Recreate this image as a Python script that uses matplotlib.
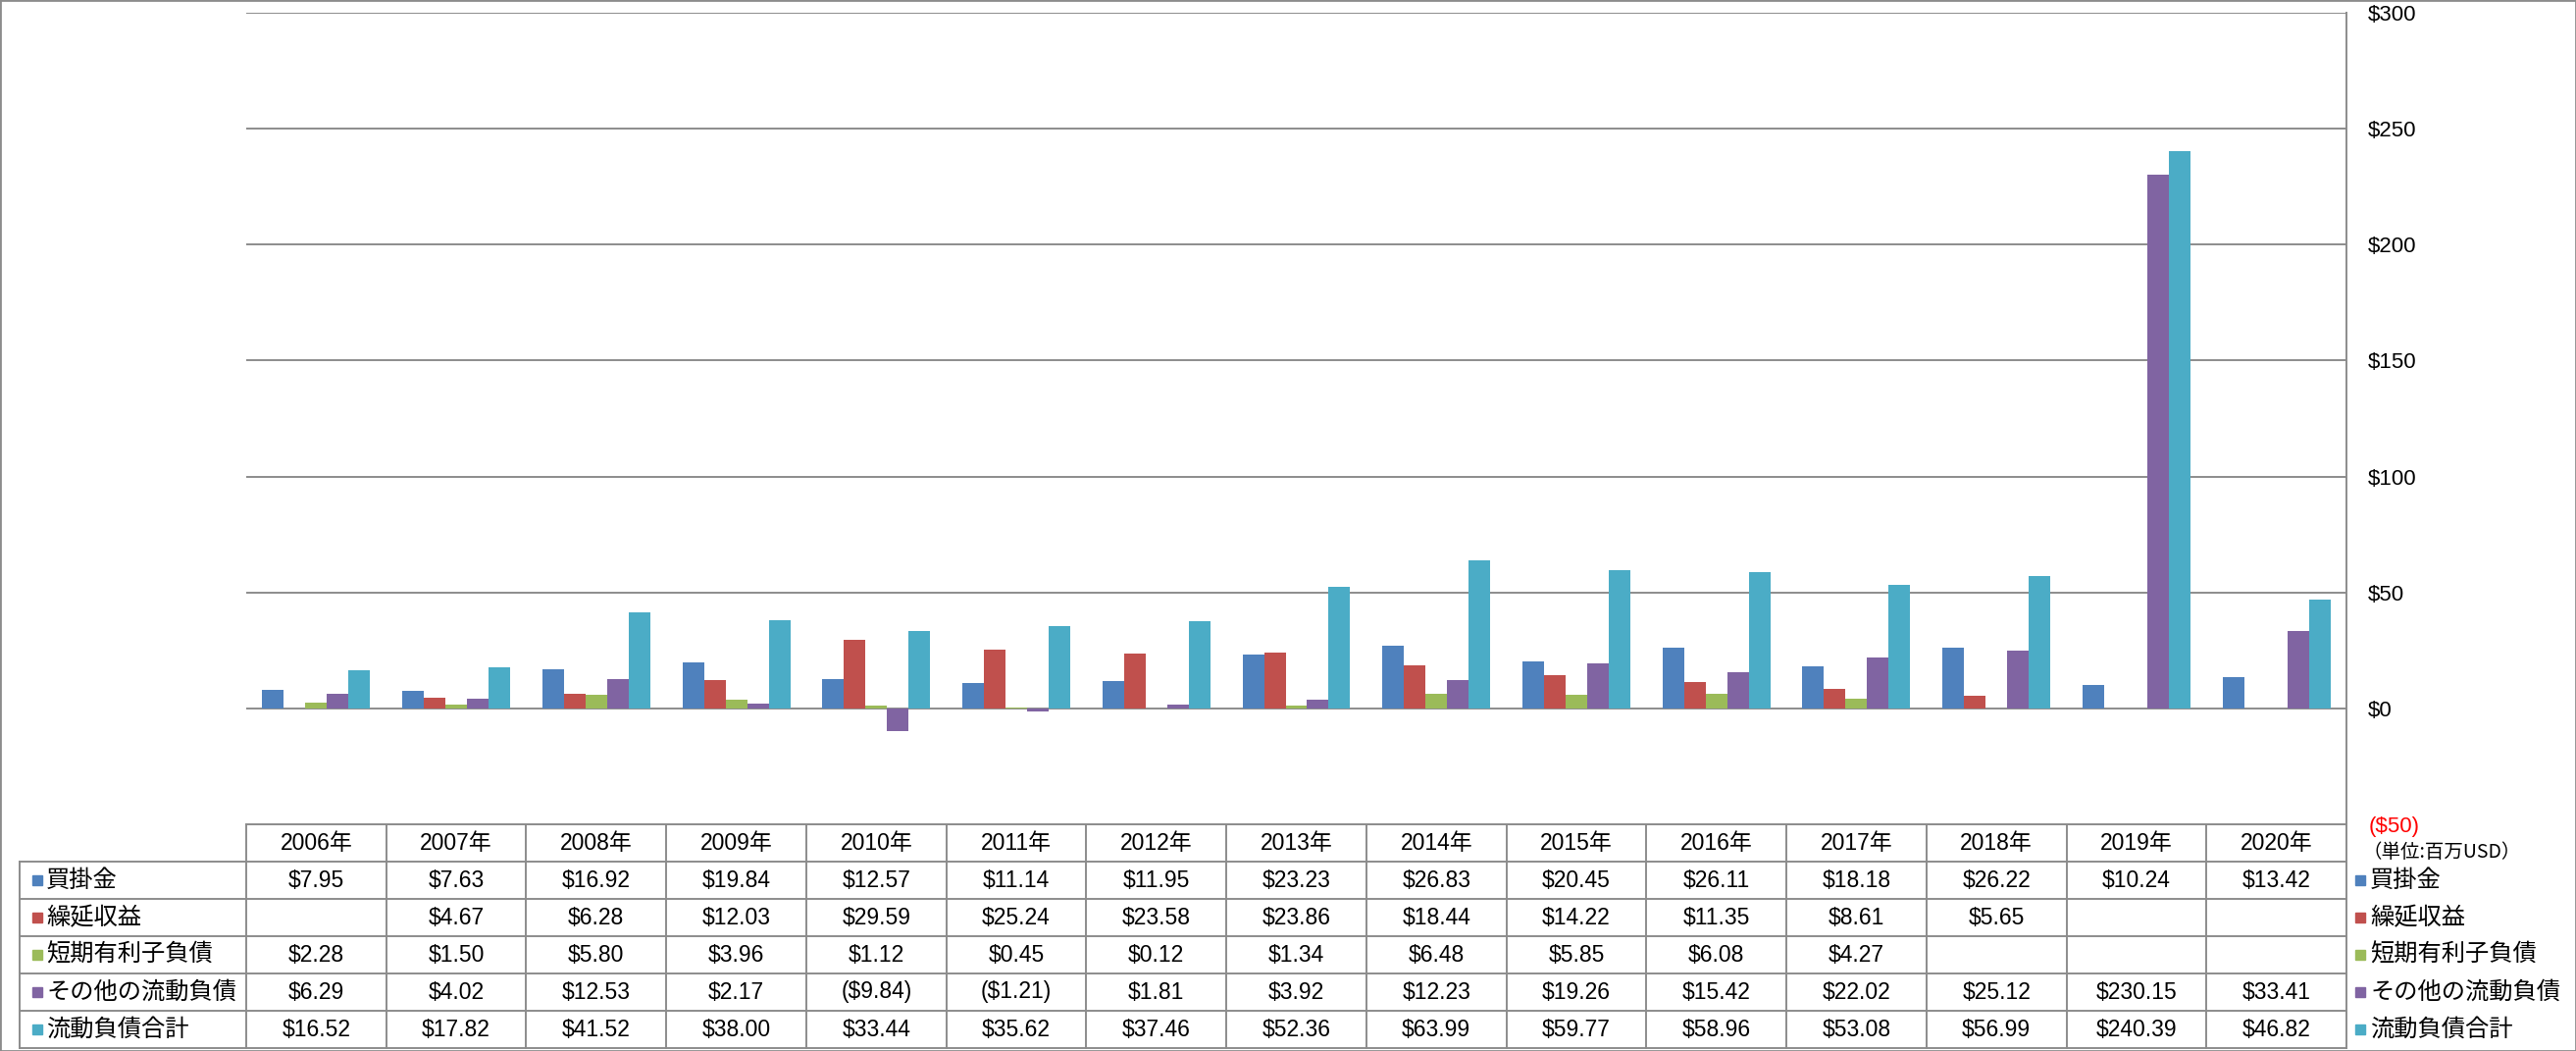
import numpy as np
import matplotlib
matplotlib.use('Agg')
import matplotlib.pyplot as plt
from matplotlib.patches import Rectangle

plt.rcParams['font.family'] = ['Liberation Sans', 'Noto Sans CJK JP', 'DejaVu Sans']

years = ['2006年', '2007年', '2008年', '2009年', '2010年', '2011年', '2012年', '2013年',
         '2014年', '2015年', '2016年', '2017年', '2018年', '2019年', '2020年']
series_names = ['買掛金', '繰延収益', '短期有利子負債', 'その他の流動負債', '流動負債合計']
colors = ['#4F81BD', '#C0504D', '#9BBB59', '#8064A2', '#4BACC6']

accounts_payable = [7.95, 7.63, 16.92, 19.84, 12.57, 11.14, 11.95, 23.23, 26.83, 20.45, 26.11, 18.18, 26.22, 10.24, 13.42]
deferred_revenue = [None, 4.67, 6.28, 12.03, 29.59, 25.24, 23.58, 23.86, 18.44, 14.22, 11.35, 8.61, 5.65, None, None]
short_term_debt = [2.28, 1.50, 5.80, 3.96, 1.12, 0.45, 0.12, 1.34, 6.48, 5.85, 6.08, 4.27, None, None, None]
other_current = [6.29, 4.02, 12.53, 2.17, -9.84, -1.21, 1.81, 3.92, 12.23, 19.26, 15.42, 22.02, 25.12, 230.15, 33.41]
total_current = [16.52, 17.82, 41.52, 38.00, 33.44, 35.62, 37.46, 52.36, 63.99, 59.77, 58.96, 53.08, 56.99, 240.39, 46.82]
all_series = [accounts_payable, deferred_revenue, short_term_debt, other_current, total_current]

yticks = [-50, 0, 50, 100, 150, 200, 250, 300]


def money(v):
    if v < 0:
        return '(${:,.2f})'.format(-v)
    return '${:,.2f}'.format(v)


W, H = 2626, 1071
fig = plt.figure(figsize=(W / 100, H / 100), dpi=100)
grid_c = '#8C8C8C'
jp = ['Noto Sans CJK JP']

# plot area
x0, x1, ytop, ybot = 251, 2392, 13, 840
ax = fig.add_axes([x0 / W, (H - ybot) / H, (x1 - x0) / W, (ybot - ytop) / H])
ax.set_xlim(-0.5, len(years) - 0.5)
ax.set_ylim(-50, 300)

bw = 0.154
for k, vals in enumerate(all_series):
    pts = [(i, v) for i, v in enumerate(vals) if v is not None]
    px = [p[0] + (k - 2) * bw for p in pts]
    ph = [p[1] for p in pts]
    ax.bar(px, ph, width=bw, color=colors[k], linewidth=0, zorder=2)

ax.set_yticks(yticks)
ax.set_yticklabels(['(${})'.format(-t) if t < 0 else '${}'.format(t) for t in yticks])
ax.yaxis.grid(True, color=grid_c, lw=1.4, zorder=0)
ax.set_axisbelow(True)
ax.yaxis.tick_right()
ax.tick_params(axis='y', length=0, pad=16, labelsize=16, labelright=True, labelleft=False)
for lab, t in zip(ax.get_yticklabels(), yticks):
    if t < 0:
        lab.set_color('red')
ax.tick_params(axis='x', bottom=False, labelbottom=False)
for s in ['left', 'top', 'bottom']:
    ax.spines[s].set_visible(False)
ax.spines['right'].set_color(grid_c)
ax.spines['right'].set_linewidth(1.4)

fig.text(2408 / W, 1 - 868 / H, '（単位:百万USD）', fontsize=14, va='center', ha='left',
         family=jp)

# data table
tl, tb = 20, 1068
colw = (x1 - x0) / len(years)
xl = -0.5 - (x0 - tl) / colw
xr = len(years) - 0.5
at = fig.add_axes([tl / W, (H - tb) / H, (x1 - tl) / W, (tb - ybot) / H])
at.set_xlim(xl, xr)
at.set_ylim(6, 0)
at.axis('off')

nrow = len(series_names)
at.plot([-0.5, xr], [0, 0], color=grid_c, lw=1.4, clip_on=False)
for r in range(1, nrow + 2):
    at.plot([xl, xr], [r, r], color=grid_c, lw=1.4, clip_on=False)
for c in range(len(years) + 1):
    at.plot([c - 0.5, c - 0.5], [0, nrow + 1], color=grid_c, lw=1.4, clip_on=False)
at.plot([xl, xl], [1, nrow + 1], color=grid_c, lw=1.4, clip_on=False)

for i, yr in enumerate(years):
    at.text(i, 0.5, yr, ha='center', va='center', fontsize=16.5)

for k, name in enumerate(series_names):
    yc = k + 1.5
    at.plot([xl + (38 - tl) / colw], [yc], marker='s', ms=7.5, color=colors[k], clip_on=False)
    at.text(xl + (47 - tl) / colw, yc, name, ha='left', va='center', fontsize=17.5, family=jp)
    for i, v in enumerate(all_series[k]):
        if v is not None:
            at.text(i, yc, money(v), ha='center', va='center', fontsize=16.5)
    # right-hand legend
    at.plot([xr + (2406 - x1) / colw], [yc], marker='s', ms=7.5, color=colors[k], clip_on=False)
    at.text(xr + (2416 - x1) / colw, yc, name, ha='left', va='center', fontsize=17.5,
            family=jp, clip_on=False)

fig.patches.append(Rectangle((0, 0), 1, 1, transform=fig.transFigure, fill=False,
                             edgecolor=grid_c, lw=2))

fig.savefig('out.png', dpi=100)
